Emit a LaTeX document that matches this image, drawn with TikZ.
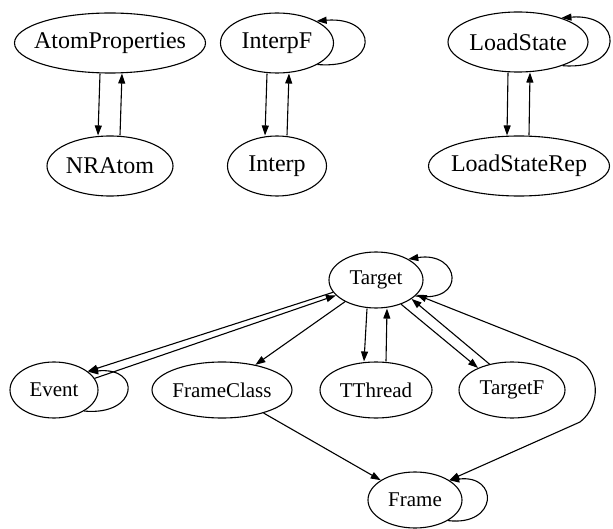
\documentclass[tikz,border=0pt]{standalone}
\usepackage{fontspec}
\setmainfont{Liberation Serif}
\usepackage{tikz}
\usetikzlibrary{shapes,arrows.meta}
\newcommand{\nm}[1]{\makebox[0pt]{#1}}

\begin{document}
\begin{tikzpicture}[x=1pt,y=-1pt,line width=1.1pt,>={Triangle[length=10pt,width=7pt]},
  topnode/.style={ellipse,draw,inner sep=0pt,minimum height=60pt,font=\fontsize{24}{28}\selectfont},
  botnode/.style={ellipse,draw,inner sep=0pt,minimum height=56pt,font=\fontsize{21}{25}\selectfont}]
\useasboundingbox (0,0) rectangle (613,529);
\node[topnode,minimum width=191pt] (AtomProperties) at (110,43) {\nm{AtomProperties}};
\node[topnode,minimum width=126pt] (NRAtom) at (110,166) {\nm{NRAtom}};
\node[topnode,minimum width=113pt] (InterpF) at (277,43) {\nm{InterpF}};
\node[topnode,minimum width=99pt] (Interp) at (277,166) {\nm{Interp}};
\node[topnode,minimum width=140pt] (LoadState) at (518,42) {\nm{LoadState}};
\node[topnode,minimum width=181pt] (LoadStateRep) at (519,166) {\nm{LoadStateRep}};
\foreach \a/\b in {AtomProperties/NRAtom,InterpF/Interp,LoadState/LoadStateRep} {
  \draw[->] ([xshift=-10pt]\a.south) -- ([xshift=-12pt]\b.north);
  \draw[->] ([xshift=10pt]\b.north) -- ([xshift=12pt]\a.south);
}
\draw[->] (InterpF.-28) .. controls +(63,5) and +(62,-5) .. (InterpF.29);
\draw[->] (LoadState.-28) .. controls +(63,5) and +(62,-5) .. (LoadState.29);

\node[botnode,minimum width=94pt] (Target) at (376,280) {\nm{Target}};
\node[botnode,minimum width=88pt] (Event) at (54,390) {\nm{Event}};
\node[botnode,minimum width=140pt] (FrameClass) at (222,390) {\nm{FrameClass}};
\node[botnode,minimum width=112pt] (TThread) at (376,390) {\nm{TThread}};
\node[botnode,minimum width=106pt] (TargetF) at (512,390) {\nm{TargetF}};
\node[botnode,minimum width=94pt] (Frame) at (415,500) {\nm{Frame}};
\draw[->] (Target.-22) .. controls +(52,8) and +(52,-8) .. (Target.33);
\draw[->] (Event.-35) .. controls +(54,5) and +(54,-5) .. (Event.28);
\draw[->] (Frame.-32) .. controls +(50,6) and +(50,-6) .. (Frame.30);
\draw[->] ([xshift=-9pt]Target.south) -- ([xshift=-12pt]TThread.north);
\draw[->] ([xshift=10pt]TThread.north) -- ([xshift=11pt]Target.south);
\draw[->] (Target.-44) -- (TargetF.147);
\draw[->] (TargetF.131) -- (Target.-28);
\draw[->] (Target.-145) -- (FrameClass.37);
\draw[->] (Target.-164) -- (Event.29);
\draw[->] (Event.16) -- (Target.-159);
\draw[->] (FrameClass.-29) -- (Frame.150);
\draw[<->] (Target.-20) -- (576,358) .. controls (600,370) and (602,405) .. (580,422) -- (Frame.30);
\end{tikzpicture}
\end{document}
